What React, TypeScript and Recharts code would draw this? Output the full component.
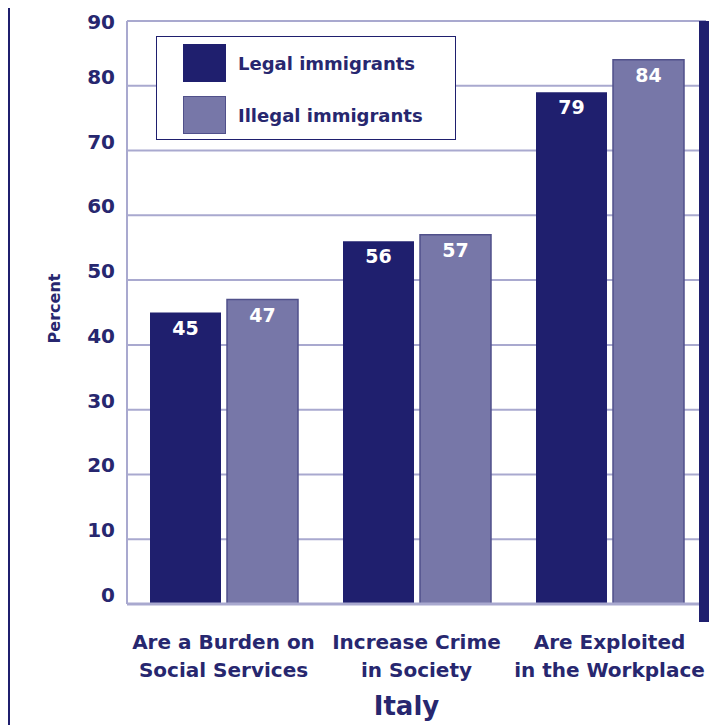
import { BarChart, Bar, XAxis, YAxis, CartesianGrid, Legend, LabelList } from 'recharts';

const categories = [
  ['Are a Burden on', 'Social Services'],
  ['Increase Crime', 'in Society'],
  ['Are Exploited', 'in the Workplace'],
];
const legalImmigrants = [45, 56, 79];
const illegalImmigrants = [47, 57, 84];
const yTicks = [0, 10, 20, 30, 40, 50, 60, 70, 80, 90];
const panelTitle = 'Italy';
const seriesOrder = ['legal', 'illegal'];

const NAVY = '#1f1f6e';
const TEXT = '#27276f';
const LILAC = '#7777a8';
const LILAC_EDGE = '#50508a';
const GRID = '#a9a9cf';
const FONT = '"DejaVu Sans", sans-serif';

const data = categories.map((c, i) => ({
  name: c.join('\n'),
  legal: legalImmigrants[i],
  illegal: illegalImmigrants[i],
}));

function CategoryTick({ x, y, payload }: any) {
  const lines = String(payload.value).split('\n');
  return (
    <g>
      {lines.map((l, i) => (
        <text
          key={i}
          x={x}
          y={y + 30 + i * 28}
          textAnchor="middle"
          dominantBaseline="central"
          fontFamily={FONT}
          fontWeight="bold"
          fontSize={20}
          fill={TEXT}
        >
          {l}
        </text>
      ))}
    </g>
  );
}

function PercentTick({ x, y, payload }: any) {
  const dy = payload.value === 90 ? 1 : -9;
  return (
    <text
      x={x - 4}
      y={y + dy}
      textAnchor="end"
      dominantBaseline="central"
      fontFamily={FONT}
      fontWeight="bold"
      fontSize={20}
      fill={TEXT}
    >
      {payload.value}
    </text>
  );
}

function ValueLabel({ x, y, width, value }: any) {
  return (
    <text
      x={x + width / 2}
      y={y + 15}
      textAnchor="middle"
      dominantBaseline="central"
      fontFamily={FONT}
      fontWeight="bold"
      fontSize={19}
      fill="#ffffff"
    >
      {value}
    </text>
  );
}

function LegendBox({ payload }: any) {
  const items = [...(payload || [])].sort(
    (a: any, b: any) => seriesOrder.indexOf(a.dataKey) - seriesOrder.indexOf(b.dataKey)
  );
  return (
    <div
      style={{
        width: 300,
        height: 104,
        boxSizing: 'border-box',
        border: `1.5px solid ${NAVY}`,
        background: '#fff',
        position: 'relative',
        fontFamily: FONT,
        fontWeight: 'bold',
        fontSize: 18,
        color: TEXT,
      }}
    >
      {items.map((p: any, i: number) => {
        const legal = p.dataKey === 'legal';
        return (
          <div key={p.value} style={{ position: 'absolute', left: 26, top: 7 + i * 52, display: 'flex', alignItems: 'center' }}>
            <div
              style={{
                width: 43,
                height: 38,
                boxSizing: 'border-box',
                background: legal ? NAVY : LILAC,
                border: `1.5px solid ${legal ? NAVY : LILAC_EDGE}`,
              }}
            />
            <span style={{ marginLeft: 12 }}>{p.value}</span>
          </div>
        );
      })}
    </div>
  );
}

export default function App() {
  return (
    <div style={{ position: 'absolute', left: 0, top: 0, width: 709, height: 725, overflow: 'hidden', background: '#fff' }}>
      <div style={{ position: 'absolute', left: 8, top: 8, width: 2, height: 717, background: NAVY }} />
      <BarChart
        width={709}
        height={725}
        data={data}
        margin={{ top: 21, right: 3, left: 0, bottom: 0 }}
        barSize={71}
        barGap={6}
      >
        <CartesianGrid vertical={false} stroke={GRID} strokeWidth={2} />
        <XAxis
          dataKey="name"
          height={121}
          interval={0}
          tickLine={false}
          axisLine={{ stroke: GRID, strokeWidth: 3 }}
          tick={<CategoryTick />}
          label={{
            content: ({ viewBox }: any) => (
              <text
                x={viewBox.x + viewBox.width / 2 - 10}
                y={viewBox.y + 102}
                textAnchor="middle"
                dominantBaseline="central"
                fontFamily={FONT}
                fontWeight="bold"
                fontSize={26}
                fill={TEXT}
              >
                {panelTitle}
              </text>
            ),
          }}
        />
        <YAxis
          width={127}
          domain={[0, 90]}
          ticks={yTicks}
          interval={0}
          tickLine={false}
          axisLine={{ stroke: GRID, strokeWidth: 2 }}
          tick={<PercentTick />}
          label={{
            content: ({ viewBox }: any) => {
              const cx = viewBox.x + 54;
              const cy = viewBox.y + viewBox.height / 2 - 4;
              return (
                <text
                  x={cx}
                  y={cy}
                  transform={`rotate(-90 ${cx} ${cy})`}
                  textAnchor="middle"
                  dominantBaseline="central"
                  fontFamily={FONT}
                  fontWeight="bold"
                  fontSize={16}
                  fill={TEXT}
                >
                  Percent
                </text>
              );
            },
          }}
        />
        <Legend
          layout="horizontal"
          verticalAlign="middle"
          align="center"
          content={<LegendBox />}
          wrapperStyle={{ left: 156, top: 36, width: 300, height: 104 }}
        />
        <Bar dataKey="legal" name="Legal immigrants" fill={NAVY} isAnimationActive={false}>
          <LabelList dataKey="legal" content={<ValueLabel />} />
        </Bar>
        <Bar dataKey="illegal" name="Illegal immigrants" fill={LILAC} stroke={LILAC_EDGE} strokeWidth={1.5} isAnimationActive={false}>
          <LabelList dataKey="illegal" content={<ValueLabel />} />
        </Bar>
      </BarChart>
      <div style={{ position: 'absolute', left: 699, top: 21, width: 10, height: 601, background: NAVY }} />
    </div>
  );
}
